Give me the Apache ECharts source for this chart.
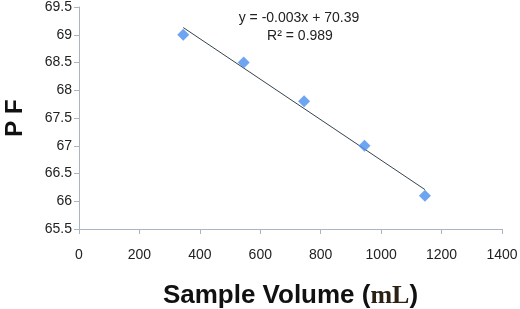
<!DOCTYPE html>
<html>
<head>
<meta charset="utf-8">
<script src="https://cdn.jsdelivr.net/npm/echarts@6/dist/echarts.min.js"></script>
<style>html,body{margin:0;padding:0;background:#fff}#c{width:520px;height:309px}</style>
</head>
<body>
<div id="c"></div>
<script>
var sampleVolume = [345, 545, 745, 945, 1145];
var pfValues = [69.0, 68.5, 67.8, 67.0, 66.1];
var trendX = [345, 1145];
var trendY = [69.13, 66.21];
var equationText = 'y = -0.003x + 70.39';
var r2Text = 'R\u00B2 = 0.989';

var chart = echarts.init(document.getElementById('c'), null, {renderer: 'canvas'});
var font = 'Liberation Sans';
var axisColor = '#a9b6c2';
chart.setOption({
  animation: false,
  backgroundColor: '#fff',
  textStyle: {fontFamily: font},
  title: [
    {text: equationText, left: 294, top: 6, textAlign: 'center',
     textStyle: {fontFamily: font, fontSize: 14, fontWeight: 'normal', color: '#222'}},
    {text: r2Text, left: 295, top: 24, textAlign: 'center',
     textStyle: {fontFamily: font, fontSize: 14, fontWeight: 'normal', color: '#222'}}
  ],
  grid: {left: 79, right: 18, top: 7, bottom: 80, containLabel: false, outerBoundsMode: 'none'},
  xAxis: {
    type: 'value', min: 0, max: 1400, interval: 200,
    axisLine: {show: true, lineStyle: {color: axisColor, width: 1}},
    axisTick: {show: true, inside: false, length: 5, lineStyle: {color: axisColor}},
    axisLabel: {color: '#222', fontSize: 14, fontFamily: font, margin: 19,
      formatter: function (v) { return String(v); }},
    splitLine: {show: false},
    name: 'Sample Volume ({ml|mL})',
    nameLocation: 'middle', nameGap: 54,
    nameTextStyle: {
      fontFamily: font, fontSize: 26, fontWeight: 'bold', color: '#111',
      rich: {ml: {fontFamily: 'Liberation Serif', fontSize: 26, fontWeight: 'bold', color: '#2b2114'}}
    }
  },
  yAxis: {
    type: 'value', min: 65.5, max: 69.5, interval: 0.5,
    axisLine: {show: true, lineStyle: {color: axisColor, width: 1}},
    axisTick: {show: true, inside: false, length: 5, lineStyle: {color: axisColor}},
    axisLabel: {color: '#222', fontSize: 14, fontFamily: font, margin: 7},
    splitLine: {show: false},
    name: 'P F', nameLocation: 'middle', nameGap: 52, nameRotate: 90,
    nameTextStyle: {fontFamily: font, fontSize: 24, fontWeight: 'bold', color: '#111'}
  },
  series: [
    {
      type: 'line', data: trendX.map(function (x, i) { return [x, trendY[i]]; }),
      symbol: 'none', lineStyle: {color: '#34444f', width: 1}, z: 1
    },
    {
      type: 'scatter', data: sampleVolume.map(function (x, i) { return [x, pfValues[i]]; }),
      symbol: 'diamond', symbolSize: 12, itemStyle: {color: '#4a8ff0'}, z: 2
    }
  ]
});
</script>
</body>
</html>
